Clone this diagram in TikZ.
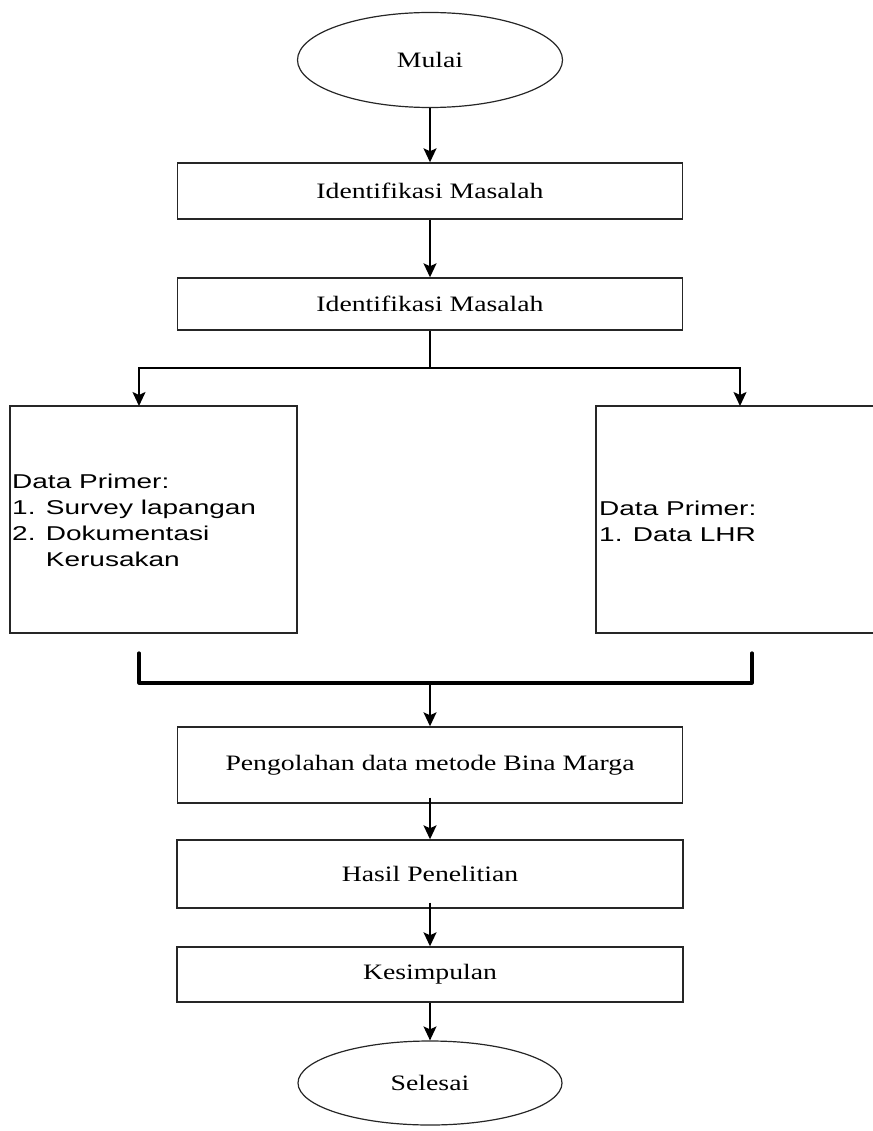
\documentclass[tikz,border=0pt]{standalone}
\usepackage{fontspec}
\setmainfont{Liberation Serif}[FakeStretch=1.26]
\newfontfamily\arialx{Liberation Sans}[FakeStretch=1.4]
\usetikzlibrary{shapes.geometric,arrows.meta}
\begin{document}
\begin{tikzpicture}[x=1pt,y=-1pt,
  box/.style={draw=black!85,line width=1.4pt,rectangle,inner sep=0pt,font=\fontsize{22}{26}\selectfont},
  oval/.style={draw=black!85,line width=1.2pt,ellipse,inner sep=0pt,font=\fontsize{22}{26}\selectfont},
  arr/.style={line width=1.8pt,-{Stealth[width=13pt,length=14pt,inset=3pt]}},
  thickline/.style={line width=3.2pt,line cap=round,line join=round},
  txt/.style={align=left,inner sep=0pt,font=\arialx\fontsize{20}{26}\selectfont}]
\useasboundingbox (0,0) rectangle (872,1131);
\node[oval,minimum width=265pt,minimum height=95pt] (mulai) at (430,60) {Mulai};
\node[box,minimum width=505pt,minimum height=56pt] (id1) at (430,191) {Identifikasi Masalah};
\node[box,minimum width=505pt,minimum height=52pt] (id2) at (430,304) {Identifikasi Masalah};
\node[box,minimum width=287pt,minimum height=227pt] (left) at (153.5,519.5) {};
\node[box,minimum width=304pt,minimum height=227pt] (right) at (748,519.5) {};
\node[txt,anchor=west] (ltxt) at (12,520) {Data Primer:\\1. Survey lapangan\\2. Dokumentasi\\\hphantom{2. }Kerusakan};
\node[txt,anchor=west] (rtxt) at (599,521) {Data Primer:\\1. Data LHR};
\node[box,minimum width=505pt,minimum height=76pt] (olah) at (430,765) {Pengolahan data metode Bina Marga};
\node[box,minimum width=506pt,minimum height=68pt] (hasil) at (430,874) {Hasil Penelitian};
\node[box,minimum width=506pt,minimum height=55pt] (kes) at (430,974.5) {Kesimpulan};
\node[oval,minimum width=264pt,minimum height=84pt] (sel) at (430,1083) {Selesai};
\coordinate (split) at (430,368);
\coordinate (ltop) at (139,406);
\coordinate (rtop) at (740,406);
\coordinate (lb) at (139,653);
\coordinate (rb) at (752,653);
\coordinate (join) at (430,683);
\draw[arr] (mulai.south) -- (id1.north);
\draw[arr] (id1.south) -- (id2.north);
\draw[line width=1.4pt] (id2.south) -- (split);
\draw[arr] (split) -| (ltop);
\draw[arr] (split) -| (rtop);
\draw[thickline] (lb) |- (join) -| (rb);
\draw[arr] (join) -- (olah.north);
\draw[arr] ([yshift=6pt]olah.south) -- (hasil.north);
\draw[arr] ([yshift=6pt]hasil.south) -- (kes.north);
\draw[arr] (kes.south) -- (sel.north);
\end{tikzpicture}
\end{document}
